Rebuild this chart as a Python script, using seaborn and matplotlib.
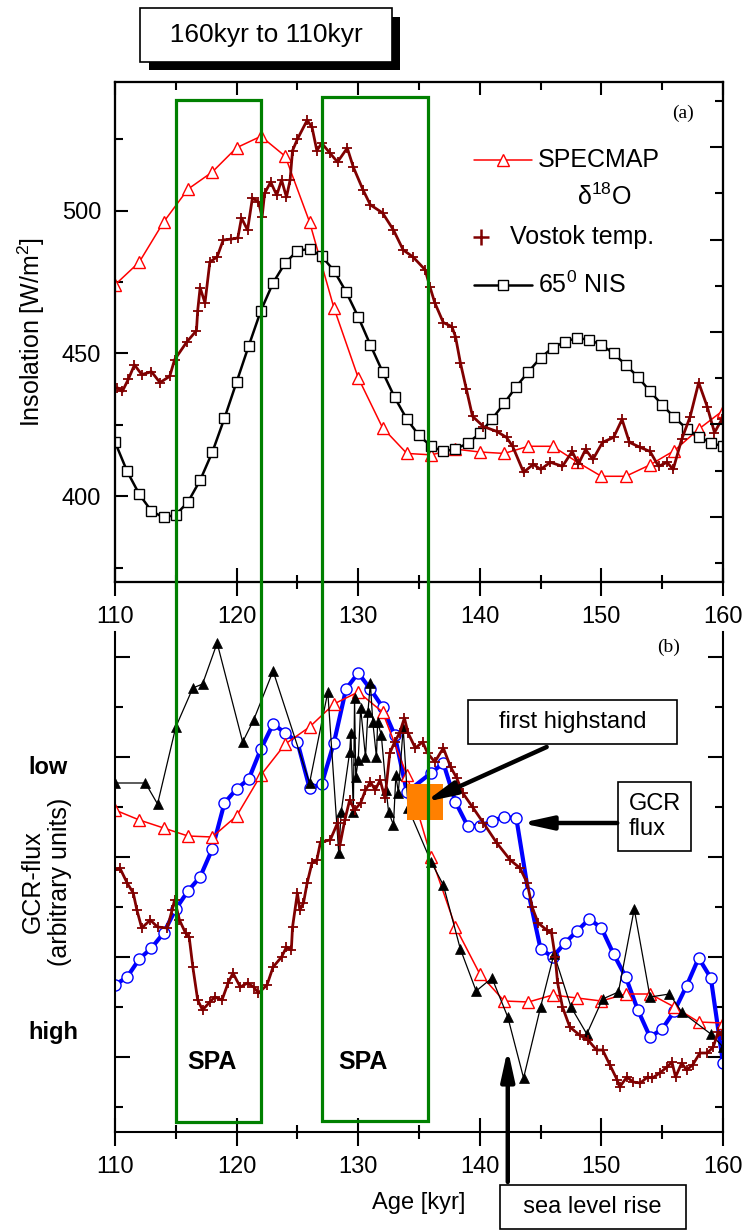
import seaborn as sns
import matplotlib.pyplot as plt
import matplotlib.transforms as mtransforms
import matplotlib.patheffects as pe
from matplotlib.patches import Rectangle
from matplotlib.lines import Line2D
from matplotlib.ticker import MultipleLocator, FixedLocator, NullFormatter

# ---------------- data ----------------
# SPECMAP d18O (every 2 kyr), on insolation scale (a) and GCR scale (b)
specmap_age = list(range(110, 161, 2))
specmap_a = [474, 482, 496, 507.5, 513.5, 522, 526, 519, 496, 466, 441.5, 424, 415,
             414.5, 416.5, 415.5, 415, 417.5, 417.5, 412, 407, 407, 411, 416, 423.5, 430]
specmap_b = [6.44, 6.24, 6.08, 5.92, 5.90, 6.32, 7.14, 7.76, 8.10, 8.56, 8.80, 8.40, 7.14,
             5.50, 4.10, 3.16, 2.62, 2.60, 2.74, 2.68, 2.62, 2.76, 2.76, 2.50, 2.20, 2.18]

# 65 deg N insolation (every 1 kyr)
nis_age = list(range(110, 161))
nis_val = [419, 408.7, 400.7, 394.8, 392.6, 393.5, 398, 405.6, 415.4, 427.3,
           440, 452.7, 465, 474.7, 481.7, 485.9, 486.6, 484, 479, 471.6,
           462.8, 453, 443.6, 434.6, 427, 421.3, 417.5, 415.7, 416.6, 418.5,
           422, 427, 432.5, 438.4, 443.6, 448.5, 452, 454.1, 455.4, 454.8,
           453, 450, 446, 441.8, 436.7, 432, 427.6, 423.7, 420.9, 418.7, 417.5]

# Vostok temperature, panel (a)
vostok_a_age = [110.2, 110.6, 111.1, 111.6, 112.2, 113.0, 113.7, 114.5, 114.9, 115.9,
                116.7, 116.8, 117.0, 117.4, 117.8, 118.4, 118.9, 119.5, 120.1, 120.4,
                120.9, 121.3, 121.8, 122.1, 122.3, 122.8, 123.3, 123.7, 124.1, 124.4,
                124.6, 125.0, 125.8, 126.2, 126.6, 127.0, 127.7, 128.3, 129.1, 129.6,
                130.4, 131.0, 132.0, 132.9, 133.7, 134.5, 135.5, 135.9, 136.3, 137.0,
                137.7, 138.0, 138.4, 138.9, 139.4, 140.3, 141.4, 142.2, 142.7, 143.6,
                144.4, 145.0, 145.8, 146.8, 147.6, 148.1, 148.7, 149.3, 150.1, 151.0,
                151.7, 152.3, 153.2, 154.0, 154.7, 155.4, 155.9, 156.6, 157.3, 158.0,
                158.7, 159.3, 159.9]
vostok_a_val = [438.0, 436.7, 441.0, 446.0, 442.6, 443.6, 439.8, 442.0, 447.8, 454.0,
                458.0, 465.0, 473.0, 467.7, 482.0, 483.8, 489.7, 490.0, 490.4, 497.4,
                493.2, 504.4, 503.0, 497.8, 506.0, 510.0, 505.4, 510.7, 504.7, 510.7,
                521.0, 525.0, 531.6, 529.2, 521.0, 523.6, 520.0, 517.0, 521.9, 515.2,
                507.2, 502.0, 499.2, 493.2, 486.2, 483.8, 479.3, 473.3, 467.7, 460.8,
                459.4, 455.9, 446.8, 437.4, 428.0, 424.4, 422.7, 420.6, 417.5, 408.4,
                411.2, 409.4, 411.9, 410.5, 415.7, 411.2, 416.4, 412.9, 418.9, 420.6,
                426.9, 418.9, 417.1, 415.7, 410.5, 411.9, 409.4, 419.9, 427.9, 439.8,
                431.4, 422.3, 426.9]

# Vostok temperature, panel (b)
vostok_b_age = [110.0, 110.4, 111.0, 111.5, 111.8, 112.2, 112.9, 113.5, 114.3, 114.7,
                114.9, 115.3, 115.8, 116.1, 116.4, 116.8, 117.2, 117.8, 118.2, 118.8,
                119.3, 119.7, 120.3, 120.9, 121.4, 121.8, 122.5, 123.0, 123.7, 124.1,
                124.5, 124.6, 125.0, 125.2, 125.5, 125.8, 126.2, 126.6, 126.9, 127.7,
                128.3, 128.5, 128.9, 129.3, 129.7, 130.2, 130.6, 131.0, 131.4, 131.8,
                132.2, 132.6, 133.0, 133.4, 133.8, 134.1, 134.7, 135.3, 135.7, 136.3,
                137.0, 137.6, 138.1, 138.6, 139.4, 140.3, 141.4, 142.5, 143.3, 143.9,
                144.3, 144.8, 145.5, 145.9, 146.2, 146.4, 146.8, 147.4, 148.2, 148.9,
                149.6, 150.1, 150.7, 151.3, 151.5, 152.1, 152.6, 153.2, 153.8, 154.2,
                154.8, 155.4, 155.8, 156.1, 156.6, 157.0, 157.5, 158.1, 158.7, 159.2,
                159.6, 159.9]
vostok_b_val = [5.24, 5.28, 4.98, 4.78, 4.44, 4.08, 4.24, 4.10, 4.08, 4.44,
                4.64, 4.24, 3.98, 3.90, 3.30, 2.64, 2.44, 2.60, 2.70, 2.64,
                2.98, 3.18, 2.90, 2.98, 2.90, 2.78, 2.94, 3.30, 3.50, 3.70,
                3.64, 4.10, 4.78, 4.44, 4.58, 4.98, 5.38, 5.44, 5.80, 5.84,
                6.18, 5.74, 6.24, 6.64, 6.44, 6.58, 6.84, 7.00, 6.84, 7.04,
                6.68, 7.58, 7.80, 7.98, 8.28, 7.98, 7.68, 7.80, 7.58, 7.40,
                7.68, 7.30, 7.08, 6.78, 6.50, 6.18, 5.78, 5.44, 5.28, 4.98,
                4.50, 4.18, 4.04, 3.98, 3.50, 2.98, 2.50, 2.10, 1.94, 1.84,
                1.64, 1.64, 1.34, 1.04, 0.90, 1.10, 1.00, 0.98, 1.10, 1.08,
                1.18, 1.30, 1.40, 1.10, 1.38, 1.24, 1.34, 1.58, 1.58, 1.70,
                2.00, 1.94]

# GCR flux (blue, every 1 kyr, 135 hidden)
gcr_age = list(range(110, 135)) + list(range(136, 161))
gcr_val = [2.94, 3.10, 3.46, 3.68, 3.98, 4.46, 4.82, 5.10, 5.66, 6.58,
           6.86, 7.06, 7.66, 8.16, 7.98, 7.80, 6.88, 6.96, 7.78, 8.86,
           9.18, 8.86, 8.50, 7.94, 6.80,
           7.18, 7.38, 6.60, 6.12, 6.12, 6.22, 6.30, 6.28, 4.78, 3.66,
           3.50, 3.78, 4.02, 4.26, 4.08, 3.56, 3.10, 2.44, 1.90, 2.06,
           2.42, 2.92, 3.48, 3.08, 1.38]

# black filled triangles
tri_age = [110.0, 112.5, 113.5, 115.0, 116.4, 117.2, 118.4, 120.5, 121.4, 123.0, 126.0,
           127.5, 128.4, 128.6, 129.3, 129.4, 129.6, 129.7, 129.8, 130.0, 130.2,
           130.6, 130.8, 131.0, 131.2, 131.5, 131.6, 131.9, 132.3, 132.5, 132.9,
           133.1, 133.3, 133.7, 134.1,
           136.0, 137.0, 138.4, 139.7, 141.0, 142.3, 143.6, 145.0, 146.1, 147.5,
           148.8, 150.1, 151.4, 152.7, 154.0, 155.6, 156.6, 159.0, 160.0]
tri_val = [6.98, 6.98, 6.56, 8.10, 8.88, 8.96, 9.78, 7.80, 8.24, 9.22, 6.98,
           8.80, 5.58, 6.40, 7.60, 7.98, 6.40, 8.68, 7.10, 7.44, 8.48,
           7.50, 8.40, 8.98, 8.20, 7.50, 8.20, 7.94, 6.84, 6.40, 6.14,
           7.14, 6.78, 8.08, 6.48,
           5.40, 4.94, 3.66, 2.82, 3.08, 2.30, 1.08, 2.50, 3.56, 2.50,
           1.96, 2.66, 2.80, 4.46, 2.70, 2.76, 2.40, 1.96, 1.70]

highstand_age = [135.5]
highstand_val = [6.6]

spa_bounds = [(115.0, 122.0), (127.0, 135.7)]

RED = '#ff0000'
MAROON = '#800000'
BLUE = '#0000ff'
GREEN = '#008000'
ORANGE = '#ff8000'

sns.set_theme(style='ticks', rc={'axes.edgecolor': 'black', 'xtick.color': 'black',
                                 'ytick.color': 'black', 'text.color': 'black',
                                 'axes.labelcolor': 'black', 'axes.linewidth': 1.5})
plt.rcParams['font.family'] = ['Liberation Sans', 'DejaVu Sans']
plt.rcParams['mathtext.fontset'] = 'custom'
plt.rcParams['mathtext.rm'] = 'Liberation Sans'
plt.rcParams['mathtext.it'] = 'Liberation Sans:italic'

W, H = 746, 1230
fig = plt.figure(figsize=(W / 100, H / 100), dpi=100)
ax1 = fig.add_axes([115 / W, 1 - 582 / H, 608 / W, 500 / H])
ax2 = fig.add_axes([115 / W, 1 - 1132 / H, 608 / W, 500 / H])

vostok_kw = dict(color=MAROON, lw=2.0, marker='+', ms=6.5, mec=MAROON, mew=1.3,
                 estimator=None, sort=False)

# ---------------- panel (a) ----------------
sns.lineplot(x=specmap_age, y=specmap_a, ax=ax1, color=RED, lw=1.1, marker='^', ms=8,
             mfc='white', mec=RED, mew=1, estimator=None)
sns.lineplot(x=nis_age, y=nis_val, ax=ax1, color='black', lw=1.8, marker='s', ms=6.5,
             mfc='white', mec='black', mew=1, estimator=None)
sns.lineplot(x=vostok_a_age, y=vostok_a_val, ax=ax1, **vostok_kw)

ax1.set_xlim(110, 160)
ax1.set_ylim(370, 545)
ax1.xaxis.set_major_locator(MultipleLocator(10))
ax1.xaxis.set_minor_locator(MultipleLocator(5))
ax1.yaxis.set_major_locator(MultipleLocator(50))
ax1.yaxis.set_minor_locator(MultipleLocator(25))
ax1.tick_params(axis='x', which='major', direction='inout', length=20, width=1.5,
                pad=7, labelsize=17, top=False)
ax1.tick_params(axis='x', which='minor', direction='inout', length=9.5, width=1.5, top=False)
ax1.tick_params(axis='y', which='major', direction='in', length=9.5, width=1.5,
                pad=10, labelsize=17, right=False)
ax1.tick_params(axis='y', which='minor', direction='in', length=5.5, width=1.5, right=False)
ax1.set_xlabel('')
ax1.set_ylabel('Insolation [W/m$^2$]', fontsize=18, va='center')
ax1.yaxis.set_label_coords(-0.138, 0.5)

ax1t = ax1.twiny()
ax1t.set_xlim(110, 160)
ax1t.xaxis.set_major_locator(MultipleLocator(10))
ax1t.xaxis.set_minor_locator(MultipleLocator(5))
ax1t.tick_params(axis='x', which='major', direction='in', length=9.5, width=1.5, labeltop=False)
ax1t.tick_params(axis='x', which='minor', direction='in', length=5.5, width=1.5)

ax1r = ax1.twinx()
ax1r.set_ylim(-0.41, 10.41)
ax1r.yaxis.set_major_locator(FixedLocator([1, 3, 5, 7, 9]))
ax1r.yaxis.set_minor_locator(FixedLocator([0, 2, 4, 6, 8, 10]))
ax1r.yaxis.set_major_formatter(NullFormatter())
ax1r.tick_params(axis='y', which='major', direction='in', length=9.5, width=1.5)
ax1r.tick_params(axis='y', which='minor', direction='in', length=5.5, width=1.5)
for a in (ax1, ax1t, ax1r):
    for s in a.spines.values():
        s.set_linewidth(1.5)

# legend (drawn by hand to keep the two-line SPECMAP label)
tA = ax1.transAxes
ax1.add_line(Line2D([0.590, 0.686], [0.844, 0.844], transform=tA, color=RED, lw=1.1))
ax1.add_line(Line2D([0.638], [0.844], transform=tA, marker='^', ms=8, mfc='white', mec=RED, mew=1))
ax1.text(0.696, 0.844, 'SPECMAP', transform=tA, fontsize=18, va='center', ha='left')
ax1.text(0.804, 0.770, 'δ$^{18}$O', transform=tA, fontsize=18, va='center', ha='center')
ax1.add_line(Line2D([0.602], [0.690], transform=tA, marker='+', ms=11, mec=MAROON, mew=1.8))
ax1.text(0.650, 0.690, 'Vostok temp.', transform=tA, fontsize=18, va='center', ha='left')
ax1.add_line(Line2D([0.590, 0.686], [0.594, 0.594], transform=tA, color='black', lw=1.8))
ax1.add_line(Line2D([0.638], [0.594], transform=tA, marker='s', ms=6.5, mfc='white', mec='black', mew=1))
ax1.text(0.696, 0.594, '65$^0$ NIS', transform=tA, fontsize=18, va='center', ha='left')
ax1.text(0.934, 0.938, '(a)', transform=tA, fontsize=14, family='Liberation Serif',
         ha='center', va='center')

# ---------------- panel (b) ----------------
sns.lineplot(x=gcr_age, y=gcr_val, ax=ax2, color=BLUE, lw=3, marker='o', ms=8,
             mfc='white', mec=BLUE, mew=1, estimator=None)
sns.lineplot(x=specmap_age, y=specmap_b, ax=ax2, color=RED, lw=1.1, marker='^', ms=8,
             mfc='white', mec=RED, mew=1, estimator=None)
sns.lineplot(x=tri_age, y=tri_val, ax=ax2, color='black', lw=0.9, marker='^', ms=7,
             mfc='black', mec='black', mew=0.5, estimator=None, sort=False)
sns.lineplot(x=vostok_b_age, y=vostok_b_val, ax=ax2, **vostok_kw)
sns.lineplot(x=highstand_age, y=highstand_val, ax=ax2, lw=0, marker='s', ms=26.5,
             mfc=ORANGE, mec=ORANGE, mew=0, estimator=None, zorder=4)

ax2.set_xlim(110, 160)
ax2.set_ylim(0, 10)
ax2.xaxis.set_major_locator(MultipleLocator(10))
ax2.xaxis.set_minor_locator(MultipleLocator(5))
ax2.yaxis.set_major_locator(FixedLocator([1.5, 3.5, 5.5, 7.5, 9.5]))
ax2.yaxis.set_minor_locator(FixedLocator([0.5, 2.5, 4.5, 6.5, 8.5]))
ax2.yaxis.set_major_formatter(NullFormatter())
ax2.tick_params(axis='x', which='major', direction='inout', length=20, width=1.5,
                pad=7, labelsize=17, top=False)
ax2.tick_params(axis='x', which='minor', direction='inout', length=9.5, width=1.5, top=False)
ax2.tick_params(axis='y', which='major', direction='in', length=11, width=1.5, right=True)
ax2.tick_params(axis='y', which='minor', direction='in', length=6, width=1.5, right=True)
ax2.spines['top'].set_visible(False)
for s in ax2.spines.values():
    s.set_linewidth(1.5)
ax2.set_xlabel('Age [kyr]', fontsize=17, labelpad=10)
ax2.set_ylabel('GCR-flux\n(arbitrary units)', fontsize=18, va='center', ha='center')
ax2.yaxis.set_label_coords(-0.1127, 0.5)
ax2.text(0.91, 0.97, '(b)', transform=ax2.transAxes, fontsize=14, family='Liberation Serif',
         ha='center', va='center')

ax2.text(118.0, 1.4, 'SPA', fontsize=18, fontweight='bold', ha='center', va='center')
ax2.text(130.4, 1.4, 'SPA', fontsize=18, fontweight='bold', ha='center', va='center')

fig.text(28 / W, 1 - 767 / H, 'low', fontsize=17, fontweight='bold', ha='left', va='center')
fig.text(28 / W, 1 - 1033 / H, 'high', fontsize=17, fontweight='bold', ha='left', va='center')

# annotations
box = dict(boxstyle='square,pad=0.45', fc='white', ec='black', lw=1.2)
arrow = dict(arrowstyle='-|>,head_length=1.0,head_width=0.22', color='black', lw=3.2,
             shrinkA=0, shrinkB=0, mutation_scale=18)
ax2.text(147.6, 8.2, '   first highstand   ', fontsize=17, ha='center', va='center',
         bbox=box, zorder=6)
ax2.annotate('', xy=(135.5, 6.6), xytext=(145.5, 7.7), arrowprops=arrow, zorder=6)
ax2.text(154.37, 6.31, 'GCR\nflux', fontsize=17, ha='center', va='center',
         multialignment='left', bbox=box, zorder=6)
ax2.annotate('', xy=(143.4, 6.18), xytext=(151.3, 6.18), arrowprops=arrow, zorder=6)
ax2.text(149.27, -1.5, '  sea level rise  ', fontsize=17, ha='center', va='center',
         bbox=box, zorder=6, clip_on=False)
ax2.annotate('', xy=(142.3, 1.66), xytext=(142.3, -1.0), arrowprops=arrow, zorder=6,
             annotation_clip=False)

# title box with shadow
title = fig.text(266 / W, 1 - 35 / H, '  160kyr to 110kyr  ', fontsize=19, ha='center',
                 va='center',
                 bbox=dict(boxstyle='square,pad=0.55', fc='white', ec='black', lw=1.2))
title.get_bbox_patch().set_path_effects([
    pe.SimplePatchShadow(offset=(6, -6), shadow_rgbFace='black', alpha=1.0), pe.Normal()])

# green SPA rectangles spanning both panels
blend = mtransforms.blended_transform_factory(ax1.transData, fig.transFigure)
for (x0, x1), top_px, bot_px in zip(spa_bounds, [100, 97], [1122, 1121]):
    fig.add_artist(Rectangle((x0, 1 - bot_px / H), x1 - x0, (bot_px - top_px) / H,
                             transform=blend, fill=False, ec=GREEN, lw=2.3, zorder=5,
                             clip_on=False))

fig.savefig('out.png', dpi=100)
